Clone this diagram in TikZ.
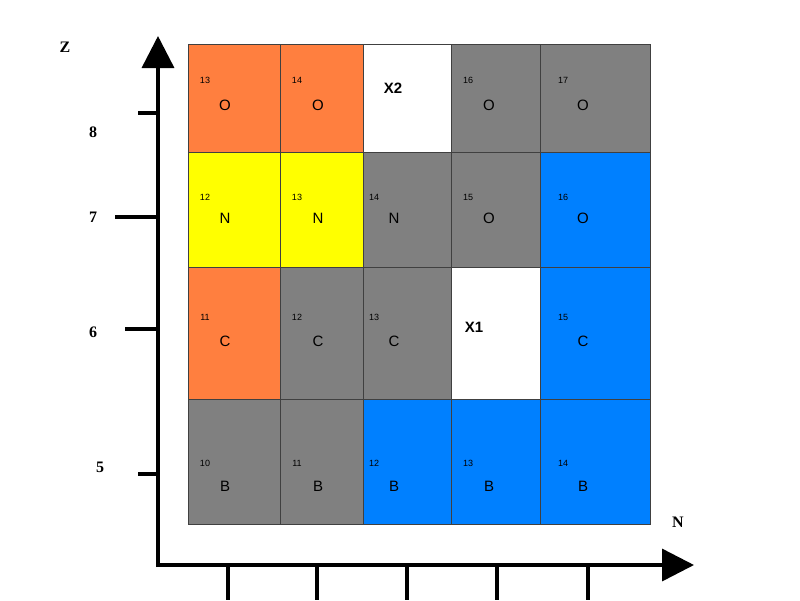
\documentclass[tikz,border=0pt]{standalone}
\usepackage{fontspec}
\setmainfont{Liberation Sans}
\newfontfamily\serifb{Liberation Serif}
\usetikzlibrary{arrows.meta}
\definecolor{cor}{HTML}{FF7F3F}
\definecolor{cye}{HTML}{FFFF00}
\definecolor{cgr}{HTML}{808080}
\definecolor{cbl}{HTML}{0080FF}
\tikzset{cell/.style={draw=black!75,line width=0.8pt},
 num/.style={font=\fontsize{9}{9}\selectfont},
 let/.style={font=\fontsize{15}{15}\selectfont},
 axis/.style={line width=3.5pt,-{Triangle[length=32pt,width=32pt]}},
 tick/.style={line width=3.5pt},
 albl/.style={font=\serifb\bfseries\fontsize{16}{16}\selectfont}}
\begin{document}
\begin{tikzpicture}[x=1pt,y=-1pt]
\useasboundingbox (0,0) rectangle (800,600);
\fill[white] (0,0) rectangle (800,600);
\def\xs{{188,280,363,451,540,650}}
\def\ys{{44,152,267,399,524}}
\def\nx{{205,297,374,468,563}}
\def\lx{{225,318,394,489,583}}
\def\ny{{80,197,317,463}}
\def\ly{{105,218,341,486}}
\foreach \r/\c/\col/\n/\l in {
0/0/cor/13/O,0/1/cor/14/O,0/3/cgr/16/O,0/4/cgr/17/O,
1/0/cye/12/N,1/1/cye/13/N,1/2/cgr/14/N,1/3/cgr/15/O,1/4/cbl/16/O,
2/0/cor/11/C,2/1/cgr/12/C,2/2/cgr/13/C,2/4/cbl/15/C,
3/0/cgr/10/B,3/1/cgr/11/B,3/2/cbl/12/B,3/3/cbl/13/B,3/4/cbl/14/B}{
 \pgfmathsetmacro\xa{\xs[\c]}\pgfmathsetmacro\xb{\xs[\c+1]}
 \pgfmathsetmacro\ya{\ys[\r]}\pgfmathsetmacro\yb{\ys[\r+1]}
 \pgfmathsetmacro\px{\nx[\c]}\pgfmathsetmacro\py{\ny[\r]}
 \pgfmathsetmacro\qx{\lx[\c]}\pgfmathsetmacro\qy{\ly[\r]}
 \draw[cell,fill=\col] (\xa,\ya) rectangle (\xb,\yb);
 \node[num] (n\r\c) at (\px,\py) {\n};
 \node[let] (l\r\c) at (\qx,\qy) {\l};
}
\draw[cell,fill=white] (363,44) rectangle (451,152);
\draw[cell,fill=white] (451,267) rectangle (540,399);
\node[font=\bfseries\fontsize{15}{15}\selectfont] (x2) at (393,88) {X2};
\node[font=\bfseries\fontsize{15}{15}\selectfont] (x1) at (474,327) {X1};
\coordinate (o) at (158,565);
\coordinate (zt) at (158,36);
\coordinate (nt) at (694,565);
\draw[axis] (158,567) -- (zt);
\draw[axis] (156,565) -- (nt);
\foreach \y/\x in {113/138,217/115,329/125,474/138} \draw[tick] (\x,\y) -- (158,\y);
\foreach \x in {228,317,407,497,588} \draw[tick] (\x,565) -- (\x,600);
\node[albl] (lz) at (65,47) {Z};
\node[albl] (ln) at (678,522) {N};
\node[albl] (l8) at (93,132) {8};
\node[albl] (l7) at (93,217) {7};
\node[albl] (l6) at (93,332) {6};
\node[albl] (l5) at (100,467) {5};
\end{tikzpicture}
\end{document}
